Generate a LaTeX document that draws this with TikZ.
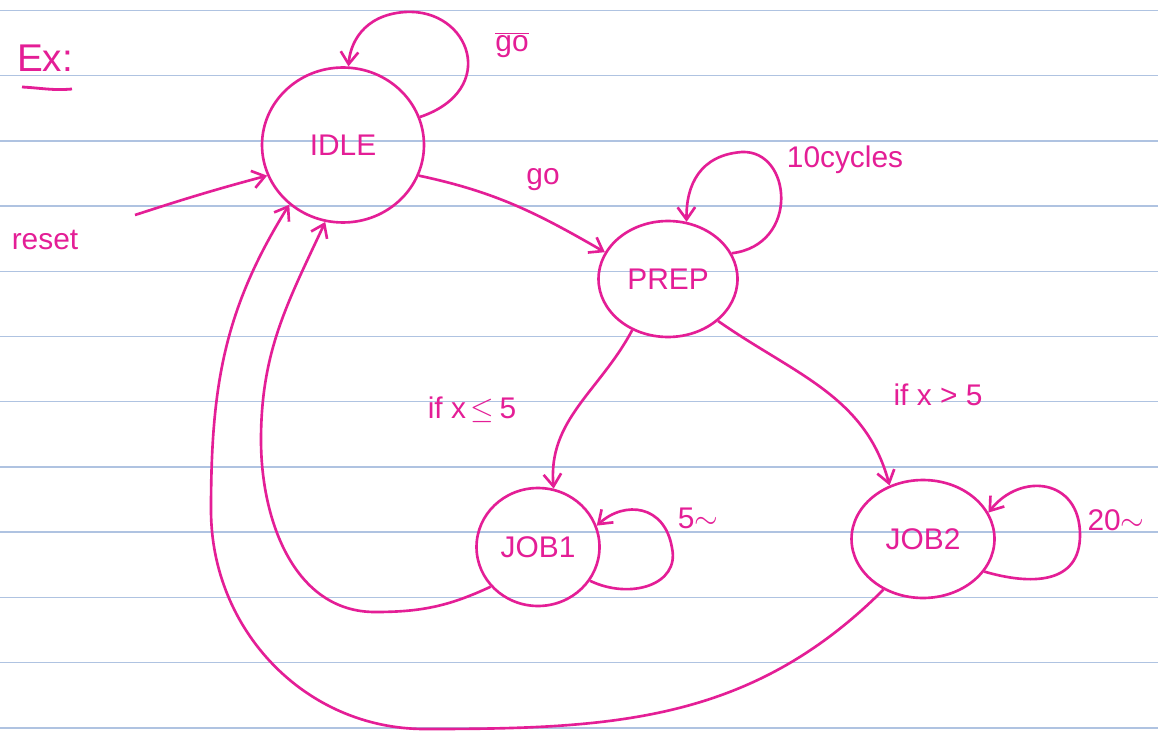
\documentclass[tikz,border=0pt]{standalone}
\usepackage{fontspec}
\setmainfont{Liberation Sans}
\usetikzlibrary{arrows.meta,shapes.geometric}
\definecolor{ink}{RGB}{228,30,150}
\definecolor{paperrule}{RGB}{175,195,225}
\begin{document}
\begin{tikzpicture}[x=0.02cm,y=0.02cm,
  state/.style={ellipse,draw=ink,line width=1.5pt,inner sep=0pt,text=ink,font=\fontsize{17}{20}\selectfont},
  edge/.style={draw=ink,line width=1.5pt,-{Straight Barb[length=7pt,width=10pt,line width=1.5pt]}},
  lbl/.style={text=ink,font=\fontsize{17}{20}\selectfont,inner sep=1pt}]
\useasboundingbox[fill=white] (0,0) rectangle (1158,-733);
\foreach \k in {0,...,11}
  \draw[paperrule,line width=0.9pt] (0,{-10.5-65.2*\k}) -- (1158,{-10.5-65.2*\k});

% states
\node[state,minimum width=3.24cm,minimum height=3.1cm] (idle) at (343,-145) {IDLE};
\node[state,minimum width=2.78cm,minimum height=2.32cm] (prep) at (668,-279) {PREP};
\node[state,minimum width=2.46cm,minimum height=2.36cm] (job1) at (538,-547) {JOB1};
\node[state,minimum width=2.86cm,minimum height=2.36cm] (job2) at (923,-539) {JOB2};

% reset
\coordinate (rs) at (135,-215);
\draw[edge] (rs) to[out=18,in=195] (idle.-158);

% transitions
\draw[edge] (idle.-22) to[out=-12,in=150] (prep.157);
\draw[edge] (prep.-125) to[out=-118,in=95] (job1.75);
\draw[edge] (prep.-40) to[out=-35,in=105] (job2.122);

% returns to IDLE
\coordinate (c0) at (375,-612);
\coordinate (c1) at (261,-440);
\draw[edge] (job1.-140) to[out=-155,in=0] (c0) to[out=180,in=-90] (c1) to[out=90,in=-115] (idle.-103);
\coordinate (c2) at (425,-729);
\coordinate (c3) at (211,-510);
\draw[edge] (job2.-128) to[out=-135,in=0] (c2) to[out=180,in=-90] (c3) to[out=90,in=-122] (idle.-132);

% self loops
\coordinate (t1) at (405,-12);
\draw[edge] (idle.20) .. controls (500,-90) and (470,-8) .. (t1) .. controls (362,-15) and (350,-45) .. (idle.86);
\coordinate (t2) at (742,-152);
\draw[edge] (prep.22) .. controls (800,-245) and (792,-150) .. (t2) .. controls (700,-155) and (686,-185) .. (prep.72);
\coordinate (t3) at (672,-548);
\draw[edge] (job1.-33) .. controls (630,-600) and (680,-585) .. (t3) .. controls (665,-505) and (625,-500) .. (job1.20);
\coordinate (t4) at (1080,-535);
\draw[edge] (job2.-28) .. controls (1030,-585) and (1080,-585) .. (t4) .. controls (1080,-478) and (1020,-472) .. (job2.22);

% labels
\node[lbl,font=\fontsize{22}{24}\selectfont] (ex) at (45,-58) {Ex:};
\draw[ink,line width=1.6pt] (22,-87) to[out=-3,in=185] (72,-89);
\node[lbl] (lgobar) at (512,-45) {$\overline{\mbox{go}}$};
\node[lbl] (lgo) at (543,-180) {go};
\node[lbl] (lcyc) at (845,-160) {10cycles};
\node[lbl] (lreset) at (45,-240) {reset};
\node[lbl] (lle) at (472,-410) {if x\,$\leq$\,5};
\node[lbl] (lgt) at (938,-395) {if x > 5};
\node[lbl] (l5) at (698,-518) {5$\sim$};
\node[lbl] (l20) at (1116,-520) {20$\sim$};
\end{tikzpicture}
\end{document}
